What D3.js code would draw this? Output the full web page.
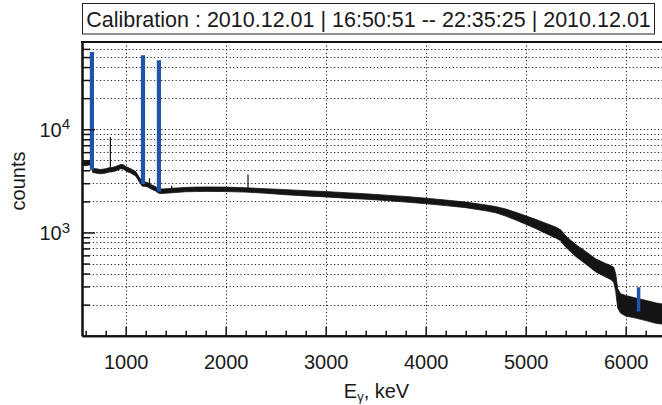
<!DOCTYPE html>
<html>
<head>
<meta charset="utf-8">
<script src="https://cdn.jsdelivr.net/npm/d3@7/dist/d3.min.js"></script>
<style>
  html, body { margin: 0; padding: 0; background: #fff; }
  svg { display: block; font-family: "Liberation Sans", Arial, Helvetica, sans-serif; }
  svg text { font-family: "Liberation Sans", Arial, Helvetica, sans-serif; }
</style>
</head>
<body>
<svg id="chart" width="662" height="405"></svg>
<script>
// ---------------- data ----------------
const titleText = "Calibration : 2010.12.01 | 16:50:51 -- 22:35:25 | 2010.12.01";
const xLabelMain = "E";
const xLabelSub = "γ";
const xLabelRest = ", keV";
const yLabel = "counts";

// spectrum continuum: energy (keV) and lower / upper edge of the noisy band (counts)
const energy = [563, 600, 640, 655, 670, 700, 750, 800, 840, 860, 900, 950, 980, 1000, 1050, 1100, 1150, 1165, 1185, 1220, 1260, 1300, 1320, 1345, 1400, 1500, 1600, 1700, 1800, 2000, 2200, 2400, 2600, 2800, 3000, 3200, 3400, 3600, 3800, 4000, 4200, 4400, 4600, 4700, 4800, 4900, 5000, 5100, 5200, 5300, 5350, 5400, 5450, 5500, 5600, 5700, 5800, 5850, 5880, 5900, 5920, 5950, 6000, 6100, 6200, 6300, 6400];
const countsLow = [4480, 4430, 4520, 4280, 3810, 3760, 3700, 3760, 3860, 3860, 3950, 4150, 4100, 3950, 3760, 3520, 2950, 2810, 2810, 2760, 2620, 2520, 2430, 2380, 2400, 2440, 2480, 2490, 2500, 2490, 2460, 2400, 2320, 2260, 2210, 2150, 2100, 2040, 1970, 1900, 1820, 1740, 1620, 1550, 1440, 1320, 1200, 1090, 980, 885, 830, 720, 650, 585, 495, 415, 370, 350, 330, 270, 185, 165, 155, 148, 140, 132, 128];
const countsHigh = [4930, 4880, 4990, 4720, 4200, 4150, 4070, 4150, 4250, 4250, 4360, 4560, 4520, 4360, 4150, 3890, 3260, 3100, 3100, 3050, 2890, 2780, 2680, 2630, 2650, 2690, 2730, 2750, 2760, 2750, 2710, 2650, 2600, 2540, 2490, 2430, 2370, 2300, 2230, 2150, 2060, 1970, 1850, 1780, 1690, 1570, 1450, 1340, 1230, 1130, 1060, 930, 840, 765, 655, 555, 500, 480, 460, 400, 285, 255, 245, 232, 220, 208, 200];

// narrow black lines in the spectrum
const spikeEnergy = [847, 1238, 1460, 2223];
const spikeBase = [4200, 2850, 2530, 2550];
const spikeTop = [8400, 3350, 2830, 3650];

// fitted calibration peaks (blue)
const peakEnergy = [662, 1173, 1332, 6129];
const peakBase = [4050, 2940, 2490, 172];
const peakTop = [56000, 52000, 46500, 295];

// axis ticks
const xMajorTicks = [1000, 2000, 3000, 4000, 5000, 6000];
const xMinorTicks = [600, 800, 1200, 1400, 1600, 1800, 2200, 2400, 2600, 2800, 3200, 3400, 3600, 3800, 4200, 4400, 4600, 4800, 5200, 5400, 5600, 5800, 6200, 6400];
const yMajorTicks = [1000, 10000];
const yMajorExp = ["3", "4"];
const yMinorTicks = [200, 300, 400, 500, 600, 700, 800, 900, 2000, 3000, 4000, 5000, 6000, 7000, 8000, 9000, 20000, 30000, 40000, 50000, 60000];

// ---------------- layout ----------------
const FONT = "'Liberation Sans', Arial, Helvetica, sans-serif";
const svg = d3.select("#chart");
const L = 82, R = 665.7, T = 42, B = 335.7;
const x = d3.scaleLinear().domain([563, 6400]).range([L, R]);
const y = d3.scaleLog().domain([100, 70000]).range([B, T]);

svg.append("defs").append("clipPath").attr("id", "plotclip")
  .append("rect").attr("x", L).attr("y", T).attr("width", R - L).attr("height", B - T);

// grid
const grid = svg.append("g").attr("stroke", "#222").attr("stroke-width", 1)
  .attr("stroke-dasharray", "1.2,2.4").attr("fill", "none");
yMinorTicks.concat(yMajorTicks).forEach(v => {
  grid.append("line").attr("x1", L).attr("x2", 662)
    .attr("y1", Math.round(y(v)) + 0.5).attr("y2", Math.round(y(v)) + 0.5);
});
xMajorTicks.forEach(v => {
  grid.append("line").attr("y1", T).attr("y2", B)
    .attr("x1", Math.round(x(v)) + 0.5).attr("x2", Math.round(x(v)) + 0.5);
});

// data
const plot = svg.append("g").attr("clip-path", "url(#plotclip)");
const bandData = energy.map((e, i) => ({ e, lo: countsLow[i], hi: countsHigh[i] }));
const band = d3.area().x(d => x(d.e)).y0(d => y(d.lo)).y1(d => y(d.hi));
plot.append("path").datum(bandData).attr("d", band)
  .attr("fill", "#141414").attr("stroke", "#141414").attr("stroke-width", 0.8);

spikeEnergy.forEach((e, i) => {
  plot.append("line").attr("x1", x(e)).attr("x2", x(e))
    .attr("y1", y(spikeBase[i])).attr("y2", y(spikeTop[i]))
    .attr("stroke", "#141414").attr("stroke-width", 1.2);
});

peakEnergy.forEach((e, i) => {
  const w = i === 3 ? 3.5 : 4.2;
  plot.append("line").attr("x1", x(e)).attr("x2", x(e))
    .attr("y1", y(peakBase[i])).attr("y2", y(peakTop[i]))
    .attr("stroke", "#1f55a8").attr("stroke-width", w);
});

// axes
const axisFont = "20px";
const xAxisMinor = d3.axisBottom(x).tickValues(xMinorTicks).tickSize(-5).tickSizeOuter(0).tickFormat("");
const xAxisMajor = d3.axisBottom(x).tickValues(xMajorTicks).tickSize(-9).tickSizeOuter(0)
  .tickPadding(19).tickFormat(d3.format("d"));
const gxm = svg.append("g").attr("transform", `translate(0,${B})`).call(xAxisMinor);
const gx = svg.append("g").attr("transform", `translate(0,${B})`).call(xAxisMajor);
[gxm, gx].forEach(g => {
  g.attr("font-family", FONT);
  g.selectAll("line").attr("stroke", "#111").attr("stroke-width", 1.5);
  g.select(".domain").attr("stroke", "#111").attr("stroke-width", 2);
});
gx.selectAll("text").attr("font-size", axisFont).attr("fill", "#1a1a1a");

const yAxisMinor = d3.axisLeft(y).tickValues(yMinorTicks).tickSize(-8).tickSizeOuter(0).tickFormat("");
const yAxisMajor = d3.axisLeft(y).tickValues(yMajorTicks).tickSize(-13).tickSizeOuter(0).tickPadding(12);
const gym = svg.append("g").attr("transform", `translate(${L},0)`).call(yAxisMinor);
const gy = svg.append("g").attr("transform", `translate(${L},0)`).call(yAxisMajor);
[gym, gy].forEach(g => {
  g.attr("font-family", FONT);
  g.selectAll("line").attr("stroke", "#111").attr("stroke-width", 1.5);
  g.select(".domain").attr("stroke", "#111").attr("stroke-width", 2);
});
gy.selectAll("text").each(function(d, i) {
  const t = d3.select(this);
  t.text(null).attr("font-size", axisFont).attr("fill", "#1a1a1a").attr("dy", "0.36em");
  t.append("tspan").text("10");
  t.append("tspan").text(yMajorExp[i]).attr("font-size", "15px").attr("dy", "-0.5em");
});

// top frame line
svg.append("line").attr("x1", L - 1).attr("x2", 662).attr("y1", T).attr("y2", T)
  .attr("stroke", "#111").attr("stroke-width", 2);

// labels
const xl = svg.append("text").attr("x", 376.5).attr("y", 398).attr("text-anchor", "middle")
  .attr("font-family", FONT).attr("font-size", "20px").attr("fill", "#1a1a1a");
xl.append("tspan").text(xLabelMain);
xl.append("tspan").text(xLabelSub).attr("font-size", "13px").attr("dy", "3");
xl.append("tspan").text(xLabelRest).attr("dy", "-3");

svg.append("text").attr("transform", "translate(25,181) rotate(-90)")
  .attr("font-family", FONT).attr("text-anchor", "middle").attr("font-size", "20px")
  .attr("fill", "#1a1a1a").text(yLabel);

// title box
svg.append("rect").attr("x", 82.5).attr("y", 3.5).attr("width", 572).attr("height", 30.5)
  .attr("fill", "#fff").attr("stroke", "#222").attr("stroke-width", 1);
svg.append("text").attr("x", 368.5).attr("y", 27).attr("text-anchor", "middle")
  .attr("font-family", FONT).attr("font-size", "21.5px").attr("fill", "#1a1a1a").text(titleText);
</script>
</body>
</html>
